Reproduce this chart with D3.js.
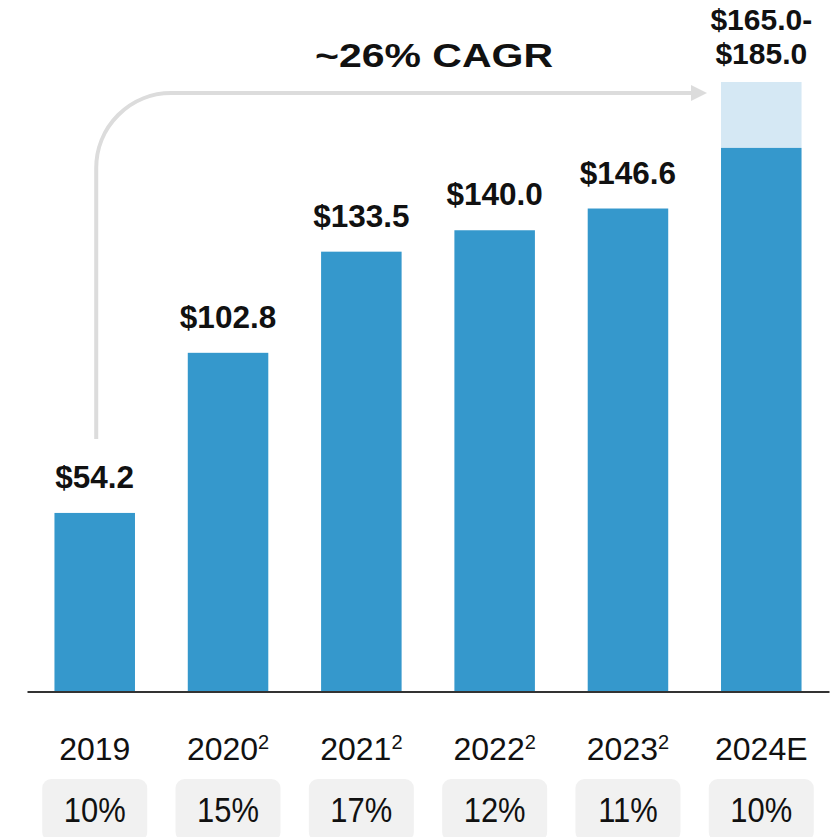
<!DOCTYPE html>
<html>
<head>
<meta charset="utf-8">
<script src="https://cdn.jsdelivr.net/npm/d3@7"></script>
<style>
  html, body { margin: 0; padding: 0; background: #fff; }
  svg { display: block; font-family: "Liberation Sans", Arial, sans-serif; }
</style>
</head>
<body>
<svg id="chart" width="838" height="837"></svg>
<script>
// Revenue by year ($, billions) with growth rates
const years      = ["2019", "2020", "2021", "2022", "2023", "2024E"];
const footnotes  = ["", "2", "2", "2", "2", ""];
const values     = [54.2, 102.8, 133.5, 140.0, 146.6, 165.0];
const rangeHigh  = [null, null, null, null, null, 185.0];
const growth     = ["10%", "15%", "17%", "12%", "11%", "10%"];
const cagrLabel  = "~26% CAGR";

const fmt = v => "$" + v.toFixed(1);

const svg = d3.select("#chart");

const x = d3.scaleBand()
  .domain(years)
  .range([27, 829])
  .paddingInner(0.396)
  .paddingOuter(0.206);

const y = d3.scaleLinear()
  .domain([0, 185])
  .range([691.5, 82]);

const BLUE = "#3598cc";
const LIGHT = "#d5e8f4";

// Forecast range (upper portion of 2024E)
svg.append("g").selectAll("rect")
  .data(years.map((d, i) => ({ year: d, lo: values[i], hi: rangeHigh[i] })).filter(d => d.hi != null))
  .join("rect")
  .attr("x", d => x(d.year))
  .attr("width", x.bandwidth())
  .attr("y", d => y(d.hi))
  .attr("height", d => y(d.lo) - y(d.hi))
  .attr("fill", LIGHT);

// Bars
svg.append("g").selectAll("rect")
  .data(years.map((d, i) => ({ year: d, v: values[i] })))
  .join("rect")
  .attr("x", d => x(d.year))
  .attr("width", x.bandwidth())
  .attr("y", d => y(d.v))
  .attr("height", d => y(0) - y(d.v))
  .attr("fill", BLUE);

// Baseline
const axis = svg.append("g")
  .attr("transform", `translate(0,${y(0)})`)
  .call(d3.axisBottom(x).tickSize(0).tickFormat(""));
axis.select(".domain").attr("stroke", "#333").attr("stroke-width", 2);
axis.selectAll(".tick").remove();

// Value labels
const labels = svg.append("g")
  .attr("font-weight", "bold")
  .attr("font-size", 31.5)
  .attr("fill", "#111")
  .attr("text-anchor", "middle");

years.forEach((yr, i) => {
  const cx = x(yr) + x.bandwidth() / 2;
  if (rangeHigh[i] == null) {
    labels.append("text")
      .attr("x", cx)
      .attr("y", y(values[i]) - 25)
      .text(fmt(values[i]));
  } else {
    // two-line range label above the forecast bar
    const base = y(rangeHigh[i]) - 18;
    labels.append("text").attr("x", cx).attr("y", base - 34)
      .attr("font-size", 30).text(fmt(values[i]) + "-");
    labels.append("text").attr("x", cx).attr("y", base)
      .attr("font-size", 30).text(fmt(rangeHigh[i]));
  }
});

// CAGR arrow
const x0 = x(years[0]) + x.bandwidth() / 2 + 1.5;
const yTop = 93;
const r = 75;
const xEnd = x(years[years.length - 1]) - 30;
svg.append("path")
  .attr("d", `M${x0},${y(values[0]) - 74} V${yTop + r} A${r},${r} 0 0 1 ${x0 + r},${yTop} H${xEnd}`)
  .attr("fill", "none")
  .attr("stroke", "#dcdcdc")
  .attr("stroke-width", 4);
svg.append("path")
  .attr("d", `M${xEnd},${yTop - 8} L${xEnd + 16},${yTop} L${xEnd},${yTop + 8} Z`)
  .attr("fill", "#dcdcdc");

svg.append("text")
  .attr("x", 434)
  .attr("y", 67)
  .attr("text-anchor", "middle")
  .attr("font-weight", "bold")
  .attr("font-size", 33)
  .attr("fill", "#111")
  .attr("textLength", 238)
  .attr("lengthAdjust", "spacingAndGlyphs")
  .text(cagrLabel);

// Year labels with footnote markers
const yearG = svg.append("g").attr("fill", "#111").attr("text-anchor", "middle");
years.forEach((yr, i) => {
  const t = yearG.append("text")
    .attr("x", x(yr) + x.bandwidth() / 2)
    .attr("y", 760)
    .attr("font-size", 32);
  t.append("tspan").text(yr);
  if (footnotes[i]) {
    t.append("tspan").attr("font-size", 20).attr("dy", -11).text(footnotes[i]);
  }
});

// Growth rate pills
const pillW = 105;
const pills = svg.append("g");
years.forEach((yr, i) => {
  const cx = x(yr) + x.bandwidth() / 2;
  pills.append("rect")
    .attr("x", cx - pillW / 2)
    .attr("y", 779)
    .attr("width", pillW)
    .attr("height", 62)
    .attr("rx", 9)
    .attr("fill", "#f1f1f1");
  pills.append("text")
    .attr("transform", `translate(${cx},822) scale(0.86,1)`)
    .attr("text-anchor", "middle")
    .attr("font-size", 36)
    .attr("fill", "#111")
    .text(growth[i]);
});
</script>
</body>
</html>
